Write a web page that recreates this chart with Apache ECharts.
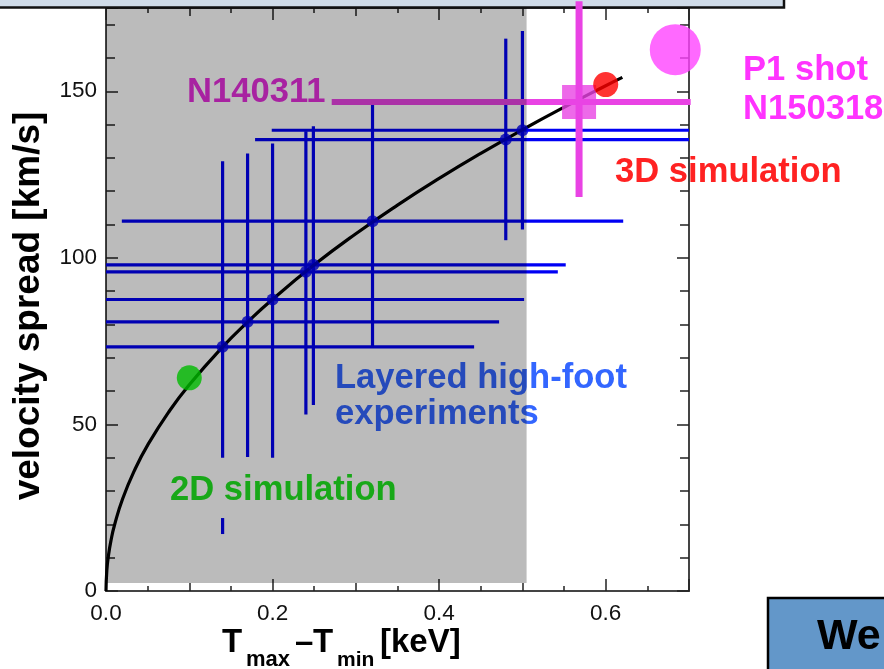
<!DOCTYPE html>
<html><head><meta charset="utf-8">
<script src="https://cdn.jsdelivr.net/npm/echarts@6/dist/echarts.min.js"></script>
<style>html,body{margin:0;padding:0;background:#fff}#c{width:884px;height:669px}</style>
</head><body><div id="c"></div>
<script>
// ---- data ----
const xTicks = [0.0, 0.2, 0.4, 0.6];
const yTicks = [0, 50, 100, 150];

// layered high-foot experiments (point, x-range, y-range)
const expX   = [0.140, 0.170, 0.200, 0.240, 0.249, 0.320, 0.480, 0.500];
const expY   = [73.3, 80.8, 87.5, 95.8, 97.9, 111.0, 135.5, 138.3];
const expXLo = [0, 0, 0, 0, 0, 0.019, 0.179, 0.199];
const expXHi = [0.442, 0.472, 0.502, 0.5425, 0.552, 0.621, 0.700, 0.700];
const expYLo = [40.0, 40.2, 40.0, 53.0, 55.8, 73.3, 105.3, 108.5];
const expYHi = [129.0, 131.3, 134.3, 138.0, 139.5, 146.3, 165.8, 168.1];
// short visible piece of the lowest error bar below the label
const extraX  = [0.140];
const extraLo = [17.1];
const extraHi = [21.9];

// fit curve
const fitT = [0, 0.001, 0.003, 0.006, 0.01, 0.02, 0.035, 0.05, 0.075, 0.1, 0.14, 0.17, 0.2, 0.25, 0.3, 0.35, 0.4, 0.45, 0.5, 0.55, 0.6, 0.62];
const fitV = [0, 6.19, 10.72, 15.17, 19.58, 27.69, 36.63, 43.78, 53.62, 61.92, 73.26, 80.73, 87.56, 97.9, 107.24, 115.84, 123.84, 131.35, 138.45, 145.21, 151.67, 154.17];

const sim2DX = [0.100], sim2DY = [64.0];
const sim3DX = [0.600], sim3DY = [152.0];
const p1CircleX = [0.6835], p1CircleY = [162.5];
const p1X = [0.568], p1Y = [146.8];
const p1XLo = [0.271], p1XHi = [0.702];
const p1YLo = [118.3], p1YHi = [177.0];

const shadeT = [0, 0.505];
const shadeV = [2.4, 175];

// ---- chart ----
const FONT = '"Liberation Sans", Arial, Helvetica, sans-serif';
const chart = echarts.init(document.getElementById('c'), null, {renderer: 'canvas'});

function xAx(pos, interval, len, minor, labels) {
  return {
    type: 'value', position: pos, min: 0, max: 0.7, interval: interval,
    axisLine: {show: true, onZero: false, lineStyle: {color: '#444', width: 2}},
    axisTick: {show: true, inside: true, length: len, lineStyle: {color: '#222', width: 1.5}},
    minorTick: {show: minor, splitNumber: 2, length: 5, lineStyle: {color: '#222', width: 1.5}},
    splitLine: {show: false},
    axisLabel: {show: labels, fontFamily: FONT, fontSize: 22.5, color: '#111', margin: 11,
      formatter: v => xTicks.some(t => Math.abs(t - v) < 1e-9) ? v.toFixed(1) : ''}
  };
}
function yAx(pos, interval, len, labels) {
  return {
    type: 'value', position: pos, min: 0, max: 175, interval: interval,
    axisLine: {show: true, onZero: false, lineStyle: {color: '#444', width: 2}},
    axisTick: {show: true, inside: true, length: len, lineStyle: {color: '#222', width: 1.5}},
    splitLine: {show: false},
    axisLabel: {show: labels, fontFamily: FONT, fontSize: 22.5, color: '#111', margin: 9,
      formatter: v => yTicks.includes(v) ? String(v) : ''}
  };
}

function lineEl(p, q, color, w) {
  return {type: 'line', shape: {x1: p[0], y1: p[1], x2: q[0], y2: q[1]}, style: {stroke: color, lineWidth: w}};
}
function txt(x, y, text, size, color, extra) {
  return Object.assign({type: 'text', z: 1, x: x, y: y,
    style: {text: text, font: 'bold ' + size + 'px ' + FONT, fill: color,
      align: 'left', verticalAlign: 'middle', textAlign: 'left', textVerticalAlign: 'middle'}}, extra || {});
}

const LS = 34.6;
const option = {
  backgroundColor: '#ffffff',
  animation: false,
  grid: {left: 106, right: 195, top: 8, bottom: 78, containLabel: false},
  xAxis: [
    xAx('bottom', 0.2, 12, false, true),
    xAx('bottom', 0.1, 8, true, false),
    xAx('top', 0.2, 12, false, false),
    xAx('top', 0.1, 8, true, false)
  ],
  yAxis: [
    yAx('left', 10, 9, true),
    yAx('left', 50, 12, false),
    yAx('right', 10, 9, false),
    yAx('right', 50, 12, false)
  ],
  series: [
    { // experiment error bars
      type: 'custom', xAxisIndex: 0, yAxisIndex: 0, z: 2,
      data: expX.map((x, i) => [x, expY[i], expXLo[i], expXHi[i], expYLo[i], expYHi[i]]),
      renderItem: (params, api) => {
        const x = api.value(0), y = api.value(1);
        return {type: 'group', children: [
          lineEl(api.coord([api.value(2), y]), api.coord([api.value(3), y]), '#0000f4', 3.2),
          lineEl(api.coord([x, api.value(4)]), api.coord([x, api.value(5)]), '#0000f4', 3.2)
        ]};
      }
    },
    {
      type: 'custom', xAxisIndex: 0, yAxisIndex: 0, z: 2,
      data: extraX.map((x, i) => [x, extraLo[i], extraHi[i]]),
      renderItem: (params, api) => lineEl(api.coord([api.value(0), api.value(1)]), api.coord([api.value(0), api.value(2)]), '#0000f4', 3.2)
    },
    { // fit curve
      type: 'line', xAxisIndex: 0, yAxisIndex: 0, z: 3,
      data: fitT.map((t, i) => [t, fitV[i]]),
      smooth: 0.5, showSymbol: false, symbol: 'none',
      lineStyle: {color: '#000', width: 3.2}
    },
    { // experiment points
      type: 'scatter', xAxisIndex: 0, yAxisIndex: 0, z: 4,
      data: expX.map((x, i) => [x, expY[i]]),
      symbolSize: 12, itemStyle: {color: '#0000f4'}
    },
    { // P1 shot error bars
      type: 'custom', xAxisIndex: 0, yAxisIndex: 0, z: 4,
      data: p1X.map((x, i) => [x, p1Y[i], p1XLo[i], p1XHi[i], p1YLo[i], p1YHi[i]]),
      renderItem: (params, api) => {
        const x = api.value(0), y = api.value(1);
        return {type: 'group', children: [
          lineEl(api.coord([api.value(2), y]), api.coord([api.value(3), y]), '#e943e4', 6),
          lineEl(api.coord([x, api.value(4)]), api.coord([x, api.value(5)]), '#e943e4', 7)
        ]};
      }
    },
    {
      type: 'scatter', xAxisIndex: 0, yAxisIndex: 0, z: 5,
      data: p1X.map((x, i) => [x, p1Y[i]]),
      symbol: 'rect', symbolSize: 34, itemStyle: {color: '#e943e4'}
    },
    {
      type: 'scatter', xAxisIndex: 0, yAxisIndex: 0, z: 5,
      data: sim2DX.map((x, i) => [x, sim2DY[i]]),
      symbolSize: 25, itemStyle: {color: '#00ff00'}
    },
    {
      type: 'scatter', xAxisIndex: 0, yAxisIndex: 0, z: 5,
      data: sim3DX.map((x, i) => [x, sim3DY[i]]),
      symbolSize: 25, itemStyle: {color: '#ff0000'}
    },
    {
      type: 'scatter', xAxisIndex: 0, yAxisIndex: 0, z: 5,
      data: p1CircleX.map((x, i) => [x, p1CircleY[i]]),
      symbolSize: 51, itemStyle: {color: '#ff44ff'}
    },
    { // translucent gray shading on top
      type: 'custom', xAxisIndex: 0, yAxisIndex: 0, z: 10, silent: true,
      data: [[shadeT[0], shadeV[1], shadeT[1], shadeV[0]]],
      renderItem: (params, api) => {
        const a = api.coord([api.value(0), api.value(1)]);
        const b = api.coord([api.value(2), api.value(3)]);
        return {type: 'rect', shape: {x: a[0], y: a[1], width: b[0] - a[0], height: b[1] - a[1]},
          style: {fill: 'rgba(0,0,0,0.267)'}};
      }
    }
  ],
  graphic: [
    {type: 'rect', z: 1, shape: {x: -5, y: -30, width: 789, height: 37.5},
      style: {fill: '#cfdbe8', stroke: '#111', lineWidth: 2.5}},
    {type: 'text', z: 1, x: 29, y: 306, rotation: Math.PI / 2,
      style: {text: 'velocity spread [km/s]', font: 'bold 37px ' + FONT, fill: '#000',
        align: 'center', verticalAlign: 'middle', textAlign: 'center', textVerticalAlign: 'middle'}},
    txt(222, 643, 'T', 33, '#000'),
    txt(246, 660, 'max', 22, '#000'),
    txt(295, 643, '–', 33, '#000'),
    txt(313, 643, 'T', 33, '#000'),
    txt(337, 660, 'min', 21, '#000'),
    txt(380, 643, '[keV]', 33, '#000'),
    txt(187, 92, 'N140311', LS, '#e52fdc'),
    txt(743, 70, 'P1 shot', LS, '#ff33ff'),
    txt(743, 109, 'N150318', LS, '#ff33ff'),
    txt(615, 172, '3D simulation', LS, '#ff2222'),
    txt(335, 378, 'Layered high-foot', LS, '#3366ff'),
    txt(335, 414, 'experiments', LS, '#3366ff'),
    txt(170, 490, '2D simulation', LS, '#22e622'),
    {type: 'rect', z: 20, shape: {x: 768, y: 598, width: 200, height: 100},
      style: {fill: '#6397c9', stroke: '#000', lineWidth: 2.5}},
    txt(817, 637, 'We', 43, '#000', {z: 21})
  ]
};
chart.setOption(option);
</script>
</body></html>
